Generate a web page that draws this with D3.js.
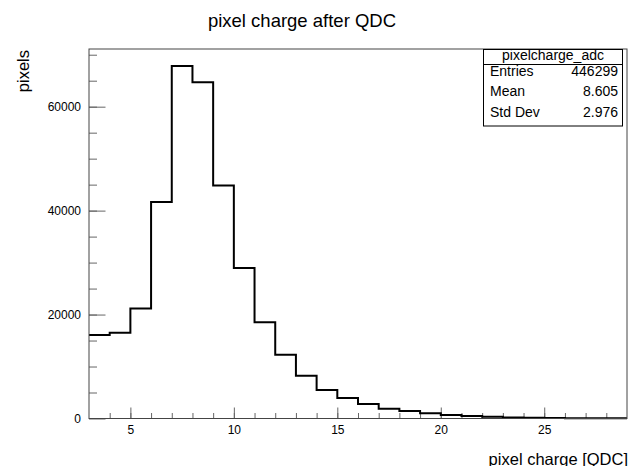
<!DOCTYPE html>
<html>
<head>
<meta charset="utf-8">
<script src="https://cdn.jsdelivr.net/npm/d3@7"></script>
<style>
  body { margin: 0; background: #fff; }
  svg { display: block; font-family: "Liberation Sans", Arial, sans-serif; }
</style>
</head>
<body>
<div id="chart"></div>
<script>
// bin low edges (width 1) and counts
var binEdges = [3, 4, 5, 6, 7, 8, 9, 10, 11, 12, 13, 14, 15, 16, 17, 18, 19, 20, 21, 22, 23, 24, 25, 26, 27, 28];
var binCounts = [16050, 16510, 21190, 41680, 67820, 64680, 44840, 28960, 18500, 12270, 8250, 5490, 3950,
                 2790, 1870, 1440, 1000, 670, 480, 330, 200, 130, 90, 60, 40, 30];
var xTicks = [5, 10, 15, 20, 25];
var yTicks = [0, 20000, 40000, 60000];
var statLabels = ["Entries", "Mean", "Std Dev"];
var statValues = ["446299", "8.605", "2.976"];

function init(){
  var w = 631;
  var h = 466;

  var left = 89, right = 627, top = 49, bottom = 418.5;

  var xScale = d3.scaleLinear()
                 .domain([3, 29])
                 .range([left, right]);

  var yScale = d3.scaleLinear()
                 .domain([0, 71100])
                 .range([bottom, top]);

  var svg = d3.select("#chart")
              .append("svg")
              .attr("width", w)
              .attr("height", h);

  svg.append("text")
     .attr("x", 302)
     .attr("y", 27)
     .attr("text-anchor", "middle")
     .attr("font-size", "18.5px")
     .attr("fill", "#000")
     .text("pixel charge after QDC");

  // minor ticks
  svg.append("g")
     .attr("transform", "translate(0," + bottom + ")")
     .call(d3.axisBottom(xScale).tickValues(d3.range(4, 29, 1)).tickSize(-5.5).tickFormat(""))
     .call(function(g){ g.select(".domain").remove(); })
     .selectAll("line").attr("stroke", "#666");

  svg.append("g")
     .attr("transform", "translate(" + left + ",0)")
     .call(d3.axisLeft(yScale).tickValues(d3.range(5000, 71000, 5000)).tickSize(-8).tickFormat(""))
     .call(function(g){ g.select(".domain").remove(); })
     .selectAll("line").attr("stroke", "#666");

  // major ticks + labels
  var xAxis = svg.append("g")
     .attr("transform", "translate(0," + bottom + ")")
     .call(d3.axisBottom(xScale).tickValues(xTicks).tickSize(-11).tickPadding(5));
  xAxis.select(".domain").remove();
  xAxis.selectAll("line").attr("stroke", "#666");
  xAxis.selectAll("text")
       .attr("y", 15.5)
       .attr("dy", null)
       .attr("font-size", "12px")
       .attr("font-family", "Liberation Sans, Arial, sans-serif")
       .attr("fill", "#000");

  var yAxis = svg.append("g")
     .attr("transform", "translate(" + left + ",0)")
     .call(d3.axisLeft(yScale).tickValues(yTicks).tickSize(-16.5).tickFormat(d3.format("d")));
  yAxis.select(".domain").remove();
  yAxis.selectAll("line").attr("stroke", "#666");
  yAxis.selectAll("text")
       .attr("x", -8)
       .attr("font-size", "12px")
       .attr("font-family", "Liberation Sans, Arial, sans-serif")
       .attr("fill", "#000");

  // histogram outline
  var pts = binEdges.map(function(e, i){ return [e, binCounts[i]]; });
  pts.push([binEdges[binEdges.length - 1] + 1, binCounts[binCounts.length - 1]]);

  var line = d3.line()
               .x(function(d){ return xScale(d[0]); })
               .y(function(d){ return yScale(d[1]); })
               .curve(d3.curveStepAfter);

  svg.append("path")
     .datum(pts)
     .attr("d", line)
     .attr("fill", "none")
     .attr("stroke", "#000")
     .attr("stroke-width", 2);

  // frame
  svg.append("rect")
     .attr("x", left)
     .attr("y", top)
     .attr("width", right - left)
     .attr("height", bottom - top)
     .attr("fill", "none")
     .attr("stroke", "#444")
     .attr("stroke-width", 1);

  // stats box
  var bx = 483.5, bw = 139, by = 49.5, bh = 76.5;
  svg.append("rect")
     .attr("x", bx)
     .attr("y", by)
     .attr("width", bw)
     .attr("height", bh)
     .attr("fill", "#fff")
     .attr("stroke", "#000")
     .attr("stroke-width", 1);

  svg.append("line")
     .attr("x1", bx).attr("x2", bx + bw)
     .attr("y1", 64.5).attr("y2", 64.5)
     .attr("stroke", "#000");

  svg.append("text")
     .attr("x", bx + bw / 2)
     .attr("y", 60)
     .attr("text-anchor", "middle")
     .attr("font-size", "14px")
     .text("pixelcharge_adc");

  svg.selectAll(".statLabel")
     .data(statLabels)
     .enter()
     .append("text")
     .attr("class", "statLabel")
     .attr("x", 490)
     .attr("y", function(d, i){ return 75.5 + i * 20.5; })
     .attr("font-size", "14px")
     .text(function(d){ return d; });

  svg.selectAll(".statValue")
     .data(statValues)
     .enter()
     .append("text")
     .attr("class", "statValue")
     .attr("x", 618)
     .attr("y", function(d, i){ return 75.5 + i * 20.5; })
     .attr("text-anchor", "end")
     .attr("font-size", "14px")
     .text(function(d){ return d; });

  // axis titles
  svg.append("text")
     .attr("transform", "translate(29,50) rotate(-90)")
     .attr("text-anchor", "end")
     .attr("font-size", "16.5px")
     .text("pixels");

  svg.append("text")
     .attr("x", 628)
     .attr("y", 465)
     .attr("text-anchor", "end")
     .attr("font-size", "16.5px")
     .text("pixel charge [QDC]");
}

window.onload = init;
</script>
</body>
</html>
